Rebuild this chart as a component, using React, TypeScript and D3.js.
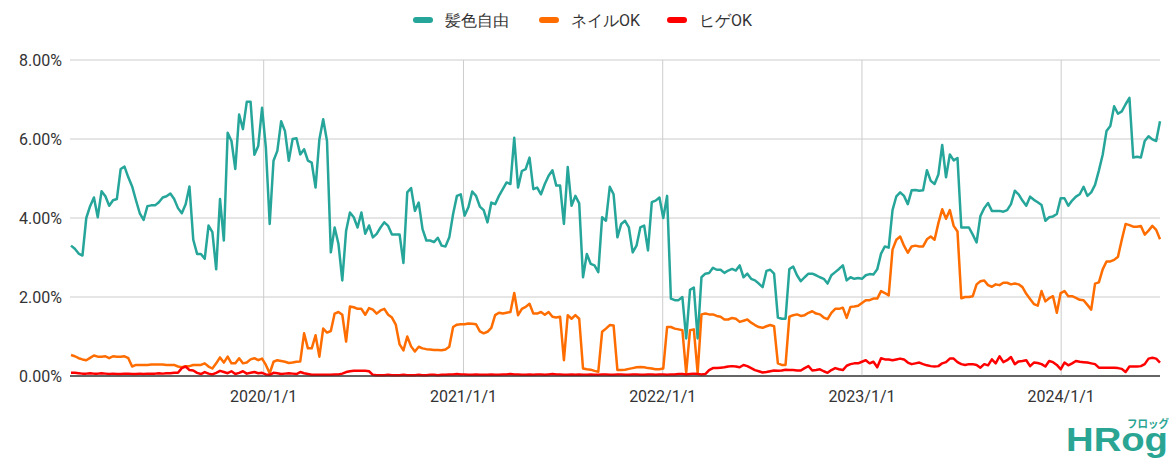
import React from "react";
import * as d3 from "d3";

// weekly share (%) from 2019-01-13 to 2024-06-30
const startDate = "2019-01-13";

const hairColor = [
  3.30, 3.22, 3.10, 3.05, 4.00, 4.30, 4.52, 4.02, 4.68, 4.55,
  4.31, 4.45, 4.48, 5.24, 5.30, 5.03, 4.80, 4.45, 4.12, 3.95,
  4.30, 4.32, 4.32, 4.40, 4.52, 4.55, 4.62, 4.48, 4.25, 4.12,
  4.35, 4.80, 3.45, 3.09, 3.09, 2.97, 3.81, 3.64, 2.70, 4.48,
  3.43, 6.16, 5.95, 5.24, 6.62, 6.25, 6.94, 6.94, 5.60, 5.82,
  6.79, 5.78, 3.85, 5.45, 5.70, 6.45, 6.20, 5.45, 6.00, 6.02,
  5.61, 5.74, 5.45, 5.40, 4.77, 5.99, 6.50, 5.95, 3.13, 3.76,
  3.34, 2.42, 3.68, 4.14, 4.02, 3.76, 4.14, 3.60, 3.81, 3.51,
  3.60, 3.76, 3.89, 3.80, 3.58, 3.58, 3.58, 2.86, 4.65, 4.76,
  4.18, 4.39, 3.72, 3.43, 3.43, 3.39, 3.50, 3.30, 3.28, 3.51,
  4.10, 4.56, 4.60, 4.06, 4.27, 4.67, 4.56, 4.29, 4.20, 3.89,
  4.39, 4.35, 4.56, 4.73, 4.90, 4.86, 6.03, 4.77, 5.19, 5.24,
  5.53, 4.73, 4.77, 4.60, 4.86, 5.07, 5.21, 4.82, 4.82, 3.85,
  5.29, 4.31, 4.56, 4.37, 2.50, 3.09, 2.84, 2.80, 2.63, 4.02,
  3.93, 4.79, 4.60, 3.51, 3.85, 3.93, 3.76, 3.13, 3.30, 3.76,
  3.81, 3.18, 4.40, 4.44, 4.52, 4.00, 4.56, 1.96, 1.92, 1.92,
  2.00, 0.95, 2.18, 2.24, 0.95, 2.50, 2.59, 2.61, 2.74, 2.69,
  2.69, 2.61, 2.67, 2.71, 2.67, 2.80, 2.50, 2.59, 2.46, 2.42,
  2.34, 2.25, 2.66, 2.69, 2.59, 1.48, 1.45, 1.45, 2.71, 2.77,
  2.55, 2.40, 2.50, 2.59, 2.59, 2.55, 2.50, 2.46, 2.34, 2.55,
  2.63, 2.71, 2.80, 2.42, 2.50, 2.46, 2.48, 2.46, 2.55, 2.58,
  2.57, 2.70, 3.10, 3.28, 3.25, 4.20, 4.55, 4.65, 4.56, 4.35,
  4.70, 4.71, 4.69, 4.70, 5.21, 4.94, 4.86, 5.10, 5.85, 5.03,
  5.61, 5.46, 5.52, 3.76, 3.76, 3.76, 3.58, 3.38, 4.05, 4.25,
  4.38, 4.18, 4.18, 4.18, 4.16, 4.20, 4.35, 4.69, 4.60, 4.44,
  4.31, 4.54, 4.46, 4.40, 4.33, 3.93, 4.02, 4.04, 4.10, 4.50,
  4.50, 4.31, 4.44, 4.54, 4.60, 4.79, 4.56, 4.65, 4.84, 5.20,
  5.60, 6.20, 6.33, 6.83, 6.64, 6.70, 6.88, 7.04, 5.53, 5.55,
  5.53, 5.95, 6.07, 5.99, 5.95, 6.45,
];

const nailOk = [
  0.53, 0.50, 0.45, 0.42, 0.40, 0.46, 0.52, 0.49, 0.49, 0.50,
  0.45, 0.50, 0.49, 0.49, 0.50, 0.45, 0.24, 0.28, 0.28, 0.28,
  0.28, 0.29, 0.29, 0.29, 0.29, 0.28, 0.28, 0.28, 0.24, 0.22,
  0.25, 0.25, 0.28, 0.28, 0.28, 0.32, 0.24, 0.19, 0.32, 0.47,
  0.34, 0.49, 0.32, 0.32, 0.45, 0.32, 0.34, 0.42, 0.45, 0.40,
  0.44, 0.28, 0.07, 0.36, 0.40, 0.38, 0.36, 0.33, 0.34, 0.36,
  0.37, 1.08, 0.70, 0.70, 1.03, 0.49, 1.20, 1.10, 1.14, 1.58,
  1.62, 1.55, 0.87, 1.76, 1.74, 1.70, 1.70, 1.55, 1.72, 1.68,
  1.58, 1.66, 1.70, 1.55, 1.48, 1.30, 0.80, 0.65, 1.00, 0.75,
  0.62, 0.74, 0.70, 0.68, 0.67, 0.66, 0.66, 0.65, 0.67, 0.74,
  1.24, 1.30, 1.31, 1.31, 1.33, 1.32, 1.31, 1.13, 1.08, 1.12,
  1.22, 1.54, 1.60, 1.58, 1.60, 1.62, 2.10, 1.54, 1.70, 1.75,
  1.83, 1.58, 1.58, 1.62, 1.55, 1.62, 1.50, 1.48, 1.50, 0.40,
  1.54, 1.45, 1.54, 1.45, 0.19, 0.17, 0.16, 0.13, 0.11, 1.12,
  1.20, 1.29, 1.28, 0.15, 0.15, 0.16, 0.18, 0.20, 0.22, 0.23,
  0.22, 0.20, 0.19, 0.17, 0.17, 0.19, 1.24, 1.24, 1.20, 1.18,
  1.16, 0.08, 1.16, 1.18, 0.08, 1.56, 1.58, 1.56, 1.56, 1.52,
  1.50, 1.43, 1.43, 1.47, 1.45, 1.37, 1.40, 1.43, 1.35, 1.29,
  1.24, 1.22, 1.26, 1.29, 1.26, 0.32, 0.28, 0.28, 1.50, 1.54,
  1.56, 1.52, 1.54, 1.60, 1.64, 1.58, 1.56, 1.48, 1.44, 1.60,
  1.70, 1.70, 1.73, 1.47, 1.75, 1.76, 1.78, 1.85, 1.92, 1.92,
  1.96, 1.96, 2.15, 2.10, 2.04, 3.20, 3.45, 3.53, 3.30, 3.12,
  3.28, 3.30, 3.28, 3.28, 3.46, 3.53, 3.45, 3.87, 4.22, 3.98,
  4.20, 3.80, 3.66, 1.97, 2.00, 2.00, 2.02, 2.32, 2.40, 2.42,
  2.30, 2.26, 2.32, 2.30, 2.36, 2.36, 2.32, 2.34, 2.32, 2.25,
  2.08, 1.95, 1.82, 1.78, 2.15, 1.89, 1.97, 2.02, 1.60, 2.10,
  2.15, 2.02, 2.02, 1.98, 1.93, 1.92, 1.80, 1.68, 2.34, 2.37,
  2.70, 2.90, 2.90, 2.94, 3.02, 3.45, 3.85, 3.82, 3.78, 3.78,
  3.80, 3.58, 3.68, 3.80, 3.70, 3.46,
];

const beardOk = [
  0.08, 0.08, 0.07, 0.06, 0.06, 0.07, 0.06, 0.06, 0.07, 0.06,
  0.05, 0.06, 0.05, 0.05, 0.06, 0.06, 0.05, 0.05, 0.06, 0.05,
  0.06, 0.06, 0.06, 0.07, 0.06, 0.07, 0.07, 0.08, 0.08, 0.20,
  0.24, 0.15, 0.14, 0.08, 0.05, 0.10, 0.06, 0.04, 0.08, 0.13,
  0.10, 0.07, 0.12, 0.05, 0.08, 0.12, 0.06, 0.08, 0.10, 0.07,
  0.08, 0.04, 0.03, 0.08, 0.07, 0.05, 0.06, 0.07, 0.06, 0.05,
  0.10, 0.07, 0.05, 0.03, 0.03, 0.03, 0.03, 0.03, 0.03, 0.04,
  0.04, 0.06, 0.10, 0.12, 0.13, 0.13, 0.13, 0.13, 0.12, 0.03,
  0.02, 0.02, 0.02, 0.03, 0.02, 0.02, 0.02, 0.03, 0.02, 0.02,
  0.02, 0.03, 0.02, 0.02, 0.03, 0.03, 0.02, 0.03, 0.03, 0.04,
  0.04, 0.05, 0.04, 0.04, 0.03, 0.03, 0.04, 0.03, 0.03, 0.03,
  0.04, 0.03, 0.03, 0.04, 0.04, 0.05, 0.04, 0.04, 0.03, 0.03,
  0.04, 0.03, 0.04, 0.04, 0.03, 0.04, 0.05, 0.04, 0.04, 0.03,
  0.03, 0.04, 0.03, 0.04, 0.03, 0.03, 0.04, 0.03, 0.03, 0.04,
  0.04, 0.03, 0.03, 0.04, 0.04, 0.03, 0.03, 0.04, 0.04, 0.03,
  0.03, 0.04, 0.04, 0.03, 0.04, 0.04, 0.03, 0.04, 0.04, 0.05,
  0.05, 0.04, 0.05, 0.06, 0.05, 0.04, 0.05, 0.15, 0.20, 0.20,
  0.21, 0.22, 0.24, 0.25, 0.24, 0.22, 0.28, 0.25, 0.20, 0.15,
  0.12, 0.09, 0.10, 0.12, 0.14, 0.13, 0.14, 0.16, 0.15, 0.15,
  0.14, 0.14, 0.20, 0.25, 0.14, 0.15, 0.17, 0.12, 0.08, 0.15,
  0.20, 0.17, 0.15, 0.26, 0.30, 0.32, 0.32, 0.36, 0.40, 0.32,
  0.36, 0.22, 0.45, 0.42, 0.42, 0.40, 0.42, 0.44, 0.42, 0.34,
  0.30, 0.32, 0.34, 0.30, 0.27, 0.25, 0.24, 0.25, 0.32, 0.35,
  0.44, 0.44, 0.35, 0.30, 0.28, 0.30, 0.30, 0.28, 0.21, 0.30,
  0.27, 0.42, 0.32, 0.50, 0.35, 0.40, 0.48, 0.30, 0.37, 0.38,
  0.40, 0.25, 0.34, 0.33, 0.30, 0.24, 0.38, 0.35, 0.28, 0.17,
  0.34, 0.27, 0.32, 0.38, 0.36, 0.35, 0.34, 0.32, 0.30, 0.21,
  0.21, 0.21, 0.21, 0.21, 0.20, 0.18, 0.10, 0.24, 0.24, 0.24,
  0.25, 0.30, 0.44, 0.46, 0.44, 0.34,
];

const seriesNames = ["髪色自由", "ネイルOK", "ヒゲOK"];
const seriesColors = ["#26a69a", "#ff6d01", "#ff0000"];
const yTicks = [0, 2, 4, 6, 8];
const xTicks = ["2020-01-01", "2021-01-01", "2022-01-01", "2023-01-01", "2024-01-01"];

const width = 1172;
const height = 466;
const left = 71;
const right = 1160;
const top = 60;
const bottom = 376;
const font = "Roboto, 'Liberation Sans', Arial, sans-serif";

export default function App() {
  const parse = d3.utcParse("%Y-%m-%d");
  const start = parse(startDate) as Date;
  const dates = hairColor.map((_, i) => d3.utcDay.offset(start, i * 7));

  const x = d3
    .scaleUtc()
    .domain([dates[0], dates[dates.length - 1]])
    .range([left, right]);
  const y = d3.scaleLinear().domain([0, 8]).range([bottom, top]);

  const line = d3
    .line<number>()
    .x((_, i) => x(dates[i]))
    .y((d) => y(d));

  const series = [hairColor, nailOk, beardOk];
  const fmt = d3.utcFormat("%Y/%-m/%-d");

  const legendX = [413, 539, 667];

  return (
    <svg
      width={width}
      height={height}
      style={{ position: "absolute", left: 0, top: 0, background: "#fff" }}
      fontFamily={font}
    >
      {/* legend */}
      {seriesNames.map((name, i) => (
        <g key={name} transform={`translate(${legendX[i]},0)`}>
          <rect x={0} y={17} width={20} height={6} rx={3} fill={seriesColors[i]} />
          <text x={32} y={26} fontSize={16} fill="#333">
            {name}
          </text>
        </g>
      ))}

      {/* grid */}
      {yTicks.map((t) => (
        <g key={t}>
          <line
            x1={left - 1}
            x2={right}
            y1={y(t)}
            y2={y(t)}
            stroke={t === 0 ? "#333" : "#ccc"}
            strokeWidth={t === 0 ? 1.2 : 1}
          />
          <text x={62} y={y(t) + 6} textAnchor="end" fontSize={16} fill="#333">
            {t.toFixed(2)}%
          </text>
        </g>
      ))}
      {xTicks.map((s) => {
        const d = parse(s) as Date;
        return (
          <g key={s}>
            <line x1={x(d)} x2={x(d)} y1={top} y2={bottom} stroke="#ccc" />
            <text x={x(d)} y={402} textAnchor="middle" fontSize={16} fill="#333">
              {fmt(d)}
            </text>
          </g>
        );
      })}

      {/* lines */}
      {series.map((vals, i) => (
        <path
          key={seriesNames[i]}
          d={line(vals) ?? ""}
          fill="none"
          stroke={seriesColors[i]}
          strokeWidth={2.5}
          strokeLinejoin="round"
        />
      ))}
      <line x1={left - 1} x2={right} y1={bottom} y2={bottom} stroke="#333" strokeWidth={1.2} />

      {/* logo */}
      <text
        x={1066}
        y={451}
        fontSize={33}
        fontWeight={700}
        fill="#2aa593"
        fontFamily="'Liberation Sans', Arial, sans-serif"
        textLength={102}
        lengthAdjust="spacingAndGlyphs"
      >
        HRog
      </text>
      <text
        x={1127}
        y={428}
        fontSize={11}
        fontWeight={700}
        fill="#2aa593"
        fontFamily="'Noto Sans CJK JP', sans-serif"
        textLength={42}
        lengthAdjust="spacingAndGlyphs"
      >
        フロッグ
      </text>
    </svg>
  );
}
